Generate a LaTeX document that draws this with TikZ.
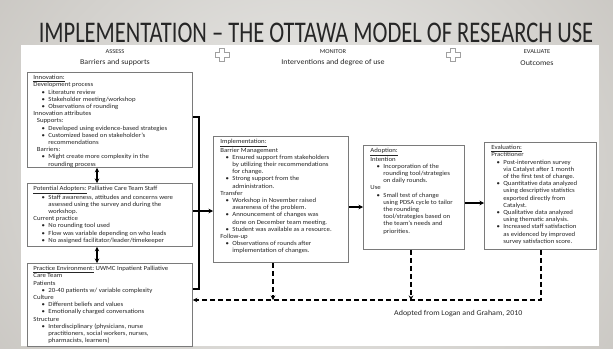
\documentclass[tikz,border=0pt]{standalone}
\usepackage{fontspec}
\setmainfont{Carlito}[FakeStretch=1.08]
\newfontfamily\titlefont{Carlito}[FakeStretch=0.75]
\usetikzlibrary{arrows.meta,calc}
\definecolor{boxgray}{HTML}{7A7A7A}
\definecolor{plusgray}{HTML}{A0A0A0}
\definecolor{bgin}{HTML}{EDEDEB}
\definecolor{bgout}{HTML}{C6C3BE}
\definecolor{txt}{HTML}{262626}
\newlength\bind
\newlength\bsep
\setlength\bsep{3.5pt}
\newcommand\hd[1][0pt]{\par\leftskip=#1\noindent}
\newcommand\bi{\par\leftskip=\bind\noindent\llap{\textbullet\hspace{\bsep}}}
\newcommand\boxtxt[3]{\parbox[c][#2][t]{#1}{\raggedright\fontsize{6.3}{7.2}\selectfont\color{txt}#3\par}}
\newcommand\plusshape[2]{%
  \draw[plusgray, line width=0.7pt] (#1-2.5,#2-6.5) -- (#1+2.5,#2-6.5) -- (#1+2.5,#2-2.5) -- (#1+7,#2-2.5) -- (#1+7,#2+2.5) -- (#1+2.5,#2+2.5) -- (#1+2.5,#2+6.5) -- (#1-2.5,#2+6.5) -- (#1-2.5,#2+2.5) -- (#1-7,#2+2.5) -- (#1-7,#2-2.5) -- (#1-2.5,#2-2.5) -- cycle;}
\begin{document}
\begin{tikzpicture}[x=1pt,y=-1pt,
  box/.style={draw=boxgray, line width=0.8pt, fill=white, inner ysep=3pt, anchor=north west},
  conn/.style={line width=1.3pt, draw=black},
  dconn/.style={line width=1.4pt, draw=black, dash pattern=on 5pt off 3pt},
  tip/.style={-{Stealth[length=4.5pt,width=4.5pt]}},
  both/.style={{Stealth[length=4.5pt,width=4.5pt]}-{Stealth[length=4.5pt,width=4.5pt]}},
  hdr/.style={font=\fontsize{6}{7}\selectfont, text=txt, inner sep=0pt},
  sub/.style={font=\fontsize{7.4}{8.5}\selectfont, text=txt, inner sep=0pt}]
\useasboundingbox (0,0) rectangle (613,348);
\shade[inner color=bgin, outer color=bgout] (-120,-200) rectangle (733,548);
\fill[white] (21,45) rectangle (599,346);
% title
\node[inner sep=0pt, anchor=base, text=black!85] (title) at (316,42) {\titlefont\fontsize{30}{32}\selectfont IMPLEMENTATION – THE OTTAWA MODEL OF RESEARCH USE};
% headers
\node[hdr] (hA) at (115,52) {ASSESS};
\node[sub] (sA) at (115,63) {Barriers and supports};
\node[hdr] (hM) at (333,52) {MONITOR};
\node[sub] (sM) at (333,63) {Interventions and degree of use};
\node[hdr] (hE) at (537,52) {EVALUATE};
\node[sub] (sE) at (537,63) {Outcomes};
\plusshape{222}{55}
\plusshape{453}{55}
% boxes
\node[box, inner xsep=6pt] (innov) at (27,72) {\boxtxt{153pt}{89pt}{\setlength\bind{15pt}%
\hd\underline{Innovation:}
\hd Development process
\bi Literature review
\bi Stakeholder meeting/workshop
\bi Observations of rounding
\hd Innovation attributes
\hd[2pt] Supports:
\bi Developed using evidence-based strategies
\bi Customized based on stakeholder's\\ recommendations
\hd[2pt] Barriers:
\bi Might create more complexity in the\\ rounding process}};
\node[box, inner xsep=6pt] (adopt) at (27,183) {\boxtxt{153pt}{57pt}{\setlength\bind{15pt}%
\hd\underline{Potential Adopters:} Palliative Care Team Staff
\bi Staff awareness, attitudes and concerns were\\ assessed using the survey and during the\\ workshop.
\hd Current practice
\bi No rounding tool used
\bi Flow was variable depending on who leads
\bi No assigned facilitator/leader/timekeeper}};
\node[box, inner xsep=6pt] (prac) at (27,263) {\boxtxt{153pt}{77pt}{\setlength\bind{15pt}%
\hd\underline{Practice Environment:} UWMC Inpatient Palliative\\ Care Team
\hd Patients
\bi 20-40 patients w/ variable complexity
\hd Culture
\bi Different beliefs and values
\bi Emotionally charged conversations
\hd Structure
\bi Interdisciplinary (physicians, nurse\\ practitioners, social workers, nurses,\\ pharmacists, learners)}};
\node[box, inner xsep=7pt] (impl) at (213,136) {\boxtxt{121pt}{120pt}{\setlength\bind{12pt}%
\hd\underline{Implementation:}
\hd Barrier Management
\bi Ensured support from stakeholders\\ by utilizing their recommendations\\ for change.
\bi Strong support from the\\ administration.
\hd Transfer
\bi Workshop in November raised\\ awareness of the problem.
\bi Announcement of changes was\\ done on December team meeting.
\bi Student was available as a resource.
\hd Follow-up
\bi Observations of rounds after\\ implementation of changes.}};
\node[box, inner xsep=7pt] (adop) at (363,145) {\boxtxt{87pt}{98pt}{\setlength\bind{13pt}%
\hd\underline{Adoption:}
\hd Intention
\bi Incorporation of the\\ rounding tool/strategies\\ on daily rounds.
\hd Use
\bi Small test of change\\ using PDSA cycle to tailor\\ the rounding\\ tool/strategies based on\\ the team's needs and\\ priorities.}};
\node[box, inner xsep=7pt] (eval) at (484,142) {\boxtxt{98pt}{101pt}{\setlength\bind{12pt}%
\hd\underline{Evaluation:}
\hd Practitioner
\bi Post-intervention survey\\ via Catalyst after 1 month\\ of the first test of change.
\bi Quantitative data analyzed\\ using descriptive statistics\\ exported directly from\\ Catalyst.
\bi Qualitative data analyzed\\ using thematic analysis.
\bi Increased staff satisfaction\\ as evidenced by improved\\ survey satisfaction score.}};
% connector coordinates
\coordinate (b1) at (199,117);
\coordinate (b2) at (199,289);
\coordinate (a1) at (199,211);
\coordinate (m1) at (355,207);
\coordinate (m2) at (474,203);
\coordinate (d1) at (273,300);
\coordinate (d2) at (411,300);
\coordinate (d3) at (541,300);
\coordinate (v1) at (97,0);
% solid connectors
\draw[conn, both] (innov.south -| v1) -- (adopt.north -| v1);
\draw[conn, both] (adopt.south -| v1) -- (prac.north -| v1);
\draw[conn] (innov.east |- b1) -- (b1) -- (b2) -- (prac.east |- b2);
\draw[conn, tip] (adopt.east |- a1) -- (impl.west |- a1);
\draw[conn, tip] (impl.east |- m1) -- (adop.west |- m1);
\draw[conn, tip] (adop.east |- m2) -- (eval.west |- m2);
% dashed feedback
\draw[dconn, tip] (eval.south -| d3) -- (d3) -- (prac.east |- d3);
\draw[dconn, tip] (adop.south -| d2) -- (d2);
\draw[dconn, tip] (impl.south -| d1) -- (d1);
\node[sub, anchor=west] (src) at (394,314) {Adopted from Logan and Graham, 2010};
\end{tikzpicture}
\end{document}
